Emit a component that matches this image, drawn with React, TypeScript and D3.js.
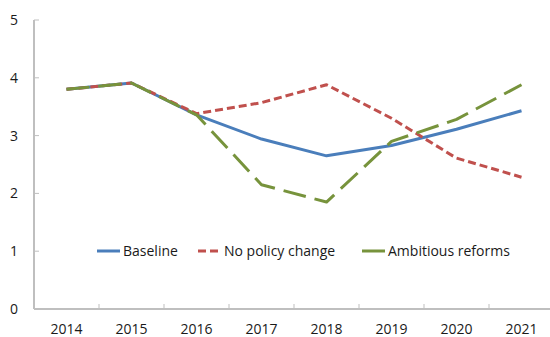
import React from "react";
import * as d3 from "d3";

const years = ["2014", "2015", "2016", "2017", "2018", "2019", "2020", "2021"];
const baseline = [3.8, 3.91, 3.36, 2.94, 2.65, 2.83, 3.11, 3.43];
const noPolicy = [3.8, 3.91, 3.38, 3.57, 3.88, 3.3, 2.61, 2.28];
const ambitious = [3.8, 3.91, 3.36, 2.15, 1.85, 2.9, 3.28, 3.88];
const yTicks = [0, 1, 2, 3, 4, 5];

const seriesNames = ["Baseline", "No policy change", "Ambitious reforms"];

export default function App() {
  const W = 550, H = 337;
  const x0 = 34, x1 = 554, yTop = 20, yBot = 309;
  const x = d3.scaleBand<string>().domain(years).range([x0, x1]);
  const y = d3.scaleLinear().domain([0, 5]).range([yBot, yTop]);
  const line = d3
    .line<number>()
    .x((_, i) => (x(years[i]) as number) + x.bandwidth() / 2)
    .y((d) => y(d));

  const series = [
    { name: seriesNames[0], data: baseline, color: "#4A7EBB", dash: "none" },
    { name: seriesNames[1], data: noPolicy, color: "#C0504D", dash: "8,4" },
    { name: seriesNames[2], data: ambitious, color: "#77933C", dash: "23,9" },
  ];
  const legendX = [97, 198, 362];
  const font = "'Open Sans', sans-serif";
  const axisColor = "#BFBFBF";

  return (
    <svg
      width={W}
      height={H}
      style={{ position: "absolute", left: 0, top: 0, background: "#fff" }}
      fontFamily={font}
    >
      <rect width={W} height={H} fill="#fff" />
      {/* y axis */}
      <line x1={x0} x2={x0} y1={yTop} y2={yBot} stroke={axisColor} strokeWidth={2} />
      {yTicks.map((t) => (
        <g key={t}>
          {t > 0 && (
            <line x1={x0} x2={x0 + 5} y1={y(t)} y2={y(t)} stroke={axisColor} strokeWidth={1} />
          )}
          <text x={18} y={y(t) + 5} textAnchor="end" fontSize={14} fill="#1a1a1a">
            {t}
          </text>
        </g>
      ))}
      {/* x axis */}
      <line x1={x0} x2={W} y1={yBot} y2={yBot} stroke={axisColor} strokeWidth={2} />
      {years.map((yr, i) => {
        const bx = x(yr) as number;
        return (
          <g key={yr}>
            {i > 0 && (
              <line x1={bx} x2={bx} y1={yBot} y2={yBot - 5} stroke={axisColor} strokeWidth={1} />
            )}
            <text x={bx + x.bandwidth() / 2} y={334} textAnchor="middle" fontSize={14} fill="#1a1a1a">
              {yr}
            </text>
          </g>
        );
      })}
      {/* series */}
      {series.map((s) => (
        <path
          key={s.name}
          d={line(s.data) as string}
          fill="none"
          stroke={s.color}
          strokeWidth={3}
          strokeDasharray={s.dash}
          strokeLinejoin="round"
        />
      ))}
      {/* legend */}
      {series.map((s, i) => (
        <g key={s.name}>
          <line
            x1={legendX[i]}
            x2={legendX[i] + 23}
            y1={251}
            y2={251}
            stroke={s.color}
            strokeWidth={3}
            strokeDasharray={i === 1 ? "8,4" : "none"}
          />
          <text x={legendX[i] + 26} y={256} fontSize={14} fill="#1a1a1a">
            {s.name}
          </text>
        </g>
      ))}
    </svg>
  );
}
